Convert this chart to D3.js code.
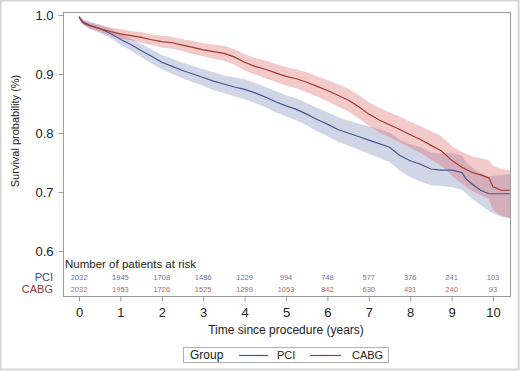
<!DOCTYPE html>
<html>
<head>
<meta charset="utf-8">
<script src="https://cdn.jsdelivr.net/npm/d3@7"></script>
<style>
  body { margin: 0; background: #fff; }
  svg { display: block; font-family: "Liberation Sans", Arial, sans-serif; }
</style>
</head>
<body>
<script>
// time grid (years) shared by both groups
var times = [0, 0.05, 0.1, 0.25, 0.5, 0.75, 1, 1.25, 1.5, 1.75, 2, 2.25, 2.5, 2.75, 3, 3.25, 3.5, 3.75,
  4, 4.25, 4.5, 4.75, 5, 5.25, 5.5, 5.75, 6, 6.25, 6.5, 6.75, 7, 7.25, 7.5, 7.75, 8, 8.25, 8.5,
  8.75, 9, 9.25, 9.35, 9.5, 9.7, 9.9, 10, 10.2, 10.41];

var pciSurv = [0.997, 0.992, 0.988, 0.983, 0.977, 0.969, 0.959, 0.950, 0.940, 0.930, 0.920, 0.913, 0.906, 0.900,
  0.894, 0.888, 0.883, 0.878, 0.874, 0.868, 0.861, 0.853, 0.846, 0.840, 0.832, 0.823, 0.815, 0.806, 0.800,
  0.794, 0.788, 0.782, 0.776, 0.762, 0.753, 0.747, 0.739, 0.737, 0.737, 0.733, 0.722, 0.713, 0.703, 0.697,
  0.697, 0.697, 0.697];
var pciLow = [0.995, 0.988, 0.983, 0.977, 0.970, 0.961, 0.950, 0.940, 0.929, 0.918, 0.908, 0.900, 0.893, 0.886,
  0.880, 0.873, 0.868, 0.862, 0.857, 0.851, 0.844, 0.835, 0.828, 0.821, 0.813, 0.803, 0.795, 0.785, 0.779,
  0.772, 0.765, 0.758, 0.751, 0.736, 0.725, 0.718, 0.711, 0.710, 0.708, 0.704, 0.698, 0.688, 0.678, 0.668,
  0.664, 0.658, 0.655];
var pciHigh = [0.999, 0.996, 0.993, 0.989, 0.984, 0.977, 0.968, 0.960, 0.951, 0.942, 0.932, 0.926, 0.919, 0.914,
  0.908, 0.903, 0.898, 0.894, 0.891, 0.885, 0.878, 0.871, 0.864, 0.859, 0.851, 0.843, 0.835, 0.827, 0.821,
  0.816, 0.811, 0.806, 0.801, 0.788, 0.781, 0.776, 0.767, 0.765, 0.766, 0.762, 0.750, 0.741, 0.732, 0.726,
  0.727, 0.729, 0.730];

var cabgSurv = [0.997, 0.991, 0.987, 0.982, 0.977, 0.972, 0.968, 0.965, 0.962, 0.958, 0.955, 0.953, 0.949, 0.945,
  0.941, 0.938, 0.935, 0.929, 0.920, 0.913, 0.908, 0.902, 0.896, 0.892, 0.886, 0.879, 0.872, 0.864, 0.856,
  0.845, 0.832, 0.822, 0.814, 0.806, 0.797, 0.789, 0.779, 0.770, 0.754, 0.742, 0.738, 0.733, 0.729, 0.724,
  0.709, 0.703, 0.703];
var cabgLow = [0.995, 0.987, 0.983, 0.977, 0.971, 0.965, 0.960, 0.957, 0.953, 0.949, 0.945, 0.943, 0.939, 0.934,
  0.930, 0.926, 0.922, 0.916, 0.906, 0.899, 0.893, 0.887, 0.880, 0.876, 0.869, 0.862, 0.854, 0.845, 0.837,
  0.825, 0.812, 0.801, 0.793, 0.784, 0.775, 0.766, 0.755, 0.745, 0.728, 0.714, 0.709, 0.702, 0.695, 0.688,
  0.670, 0.660, 0.656];
var cabgHigh = [0.999, 0.995, 0.991, 0.987, 0.983, 0.979, 0.976, 0.973, 0.971, 0.967, 0.965, 0.963, 0.959, 0.956,
  0.952, 0.950, 0.948, 0.942, 0.934, 0.927, 0.923, 0.917, 0.912, 0.908, 0.903, 0.896, 0.890, 0.883, 0.875,
  0.865, 0.852, 0.843, 0.835, 0.828, 0.819, 0.812, 0.803, 0.795, 0.778, 0.768, 0.765, 0.760, 0.757, 0.754,
  0.745, 0.739, 0.737];

var riskTimes = [0, 1, 2, 3, 4, 5, 6, 7, 8, 9, 10];
var pciRisk = [2032, 1945, 1708, 1486, 1229, 994, 748, 577, 376, 241, 103];
var cabgRisk = [2032, 1953, 1726, 1525, 1299, 1053, 842, 630, 431, 240, 93];
var yTicks = [0.6, 0.7, 0.8, 0.9, 1.0];

var W = 520, H = 371;
var frame = { left: 63, top: 12, right: 510, bottom: 296 };

var svg = d3.select("body").append("svg").attr("width", W).attr("height", H);

// outer border
svg.append("rect").attr("x", 0.5).attr("y", 0.5).attr("width", W - 2).attr("height", H - 2)
  .attr("fill", "#fff").attr("stroke", "#d4d4d4").attr("stroke-width", 2);

var x = d3.scaleLinear().domain([0, 10]).range([79, 493]);
var y = d3.scaleLinear().domain([0.6, 1.0]).range([251, 15]);

svg.append("clipPath").attr("id", "clip").append("rect")
  .attr("x", frame.left).attr("y", frame.top)
  .attr("width", frame.right - frame.left).attr("height", frame.bottom - frame.top);

function rows(s, lo, hi) {
  return times.map(function (t, i) { return { t: t, s: s[i], lo: lo[i], hi: hi[i] }; });
}
var groups = [
  { name: "PCI", data: rows(pciSurv, pciLow, pciHigh), line: "#445694", fill: "#6f7eb3", text: "#3b4a94", risk: pciRisk, riskCol: "#6a77a6" },
  { name: "CABG", data: rows(cabgSurv, cabgLow, cabgHigh), line: "#a23a2e", fill: "#d9595b", text: "#9c3a34", risk: cabgRisk, riskCol: "#b06a64" }
];

var area = d3.area().x(function (d) { return x(d.t); })
  .y0(function (d) { return y(d.lo); }).y1(function (d) { return y(d.hi); })
  .curve(d3.curveLinear);
var line = d3.line().x(function (d) { return x(d.t); }).y(function (d) { return y(d.s); })
  .curve(d3.curveLinear);

var plot = svg.append("g").attr("clip-path", "url(#clip)");
groups.forEach(function (g) {
  plot.append("path").attr("d", area(g.data)).attr("fill", g.fill).attr("fill-opacity", 0.32);
});
groups.forEach(function (g) {
  plot.append("path").attr("d", line(g.data)).attr("fill", "none")
    .attr("stroke", g.line).attr("stroke-width", 1.2);
});

// frame
svg.append("rect").attr("x", frame.left + 0.5).attr("y", frame.top + 0.5)
  .attr("width", frame.right - frame.left).attr("height", frame.bottom - frame.top)
  .attr("fill", "none").attr("stroke", "#9a9a9a");

// axes
var yAxis = svg.append("g").attr("transform", "translate(" + (frame.left + 0.5) + ",0)")
  .call(d3.axisLeft(y).tickValues(yTicks).tickFormat(d3.format(".1f")).tickSize(5).tickPadding(5));
var xAxis = svg.append("g").attr("transform", "translate(0," + (frame.bottom + 0.5) + ")")
  .call(d3.axisBottom(x).tickValues(riskTimes).tickFormat(d3.format("d")).tickSize(5).tickPadding(6));
[yAxis, xAxis].forEach(function (a) {
  a.select(".domain").remove();
  a.selectAll("line").attr("stroke", "#9a9a9a");
  a.selectAll("text").attr("fill", "#222").style("font-size", "13px");
});

svg.append("text").attr("transform", "translate(19,131) rotate(-90)")
  .attr("text-anchor", "middle").attr("fill", "#222").style("font-size", "11px")
  .text("Survival probability (%)");
svg.append("text").attr("x", x(5)).attr("y", 334).attr("text-anchor", "middle")
  .attr("fill", "#222").style("font-size", "12px").text("Time since procedure (years)");

// risk table
svg.append("text").attr("x", 65).attr("y", 268).attr("fill", "#222").style("font-size", "11.5px")
  .text("Number of patients at risk");
groups.forEach(function (g, k) {
  var by = 281 + k * 12;
  svg.append("text").attr("x", 53).attr("y", by).attr("text-anchor", "end")
    .attr("fill", g.text).style("font-size", "11px").text(g.name);
  svg.selectAll(null).data(g.risk).enter().append("text")
    .attr("x", function (d, i) { return x(riskTimes[i]); }).attr("y", by - 1)
    .attr("text-anchor", "middle").attr("fill", g.riskCol).style("font-size", "7.5px")
    .text(function (d) { return d; });
});

// legend
var lg = svg.append("g");
lg.append("rect").attr("x", 183.5).attr("y", 347.5).attr("width", 205).attr("height", 15)
  .attr("fill", "#fff").attr("stroke", "#b0b0b0");
lg.append("text").attr("x", 190).attr("y", 359).attr("fill", "#222").style("font-size", "12px").text("Group");
var legendItems = [{ g: groups[0], x1: 239, x2: 268, tx: 277 }, { g: groups[1], x1: 310, x2: 341, tx: 352 }];
legendItems.forEach(function (it) {
  lg.append("line").attr("x1", it.x1).attr("x2", it.x2).attr("y1", 355.5).attr("y2", 355.5)
    .attr("stroke", it.g.line).attr("stroke-width", 1.2);
  lg.append("text").attr("x", it.tx).attr("y", 359).attr("fill", "#222").style("font-size", "11px").text(it.g.name);
});
</script>
</body>
</html>
